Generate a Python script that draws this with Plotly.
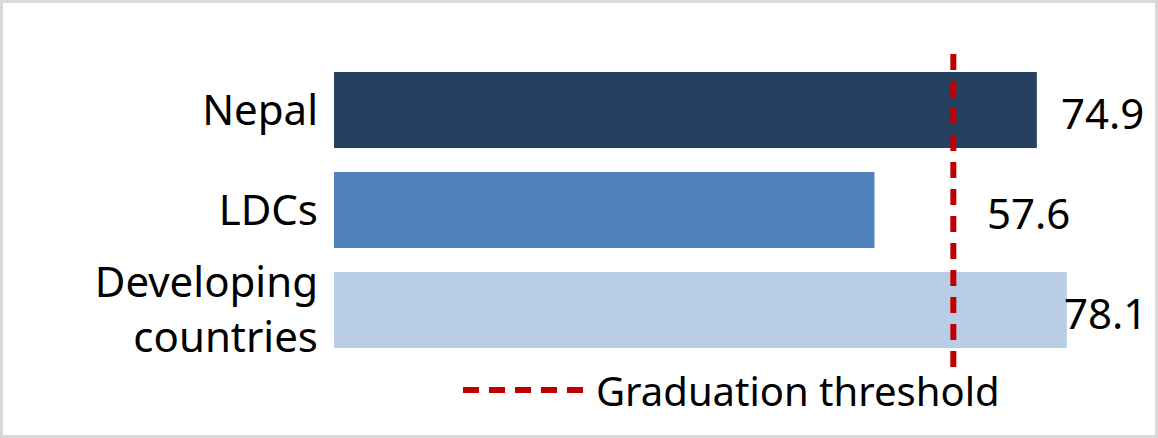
"""Horizontal bar chart: HAI scores vs. the LDC graduation threshold."""

import plotly.graph_objects as go

categories = ["Nepal", "LDCs", "Developing<br>countries"]
values = [74.9, 57.6, 78.1]
value_labels = ["74.9", "57.6", "78.1"]
threshold = 66
threshold_name = "Graduation threshold"

_COLORS = ["#264061", "#4f81bd", "#b9cde5"]
_RED = "#c00000"
_FONT = dict(family="Noto Sans, sans-serif", size=42, color="#000000")
_LABEL_SHIFT = [22, 110, -5]  # px, label offsets as placed in the original

W, H = 1158, 438
L, R, T, B = 334, 17, 50, 68
PW, PH = W - L - R, H - T - B

fig = go.Figure()
fig.add_trace(
    go.Bar(
        y=categories, x=values, orientation="h", width=0.76,
        marker=dict(color=_COLORS, line_width=0), showlegend=False,
        hoverinfo="x+y",
    )
)

for cat, val, lab, shift in zip(categories, values, value_labels, _LABEL_SHIFT):
    fig.add_annotation(
        x=val, y=cat, text=lab, showarrow=False, xanchor="left",
        xshift=shift, yshift=-2, font=_FONT,
    )

# threshold line through the plot
fig.add_shape(
    type="line", xref="x", yref="y domain", x0=threshold, x1=threshold,
    y0=0.009, y1=0.994, line=dict(color=_RED, width=6, dash="16px,11px"),
)

# hand-drawn legend (long dashed sample like the original)
leg_y = -20 / PH
fig.add_shape(
    type="line", xref="paper", yref="paper",
    x0=(463 - L) / PW, x1=(585 - L) / PW, y0=leg_y, y1=leg_y,
    line=dict(color=_RED, width=6, dash="16px,10px"),
)
fig.add_annotation(
    xref="paper", yref="paper", x=(594 - L) / PW, y=leg_y,
    text=threshold_name, showarrow=False, xanchor="left", yanchor="middle",
    font=dict(_FONT, size=40),
)

# light grey frame around the whole picture
fig.add_shape(
    type="rect", xref="paper", yref="paper",
    x0=(-L + 1.5) / PW, x1=1 + (R - 1.5) / PW,
    y0=(-B + 1.5) / PH, y1=1 + (T - 1.5) / PH,
    line=dict(color="#d9d9d9", width=3), fillcolor="rgba(0,0,0,0)", layer="below",
)

fig.update_layout(
    width=W, height=H, margin=dict(l=L, r=R, t=T, b=B),
    paper_bgcolor="#ffffff", plot_bgcolor="#ffffff",
    font=_FONT, showlegend=False, bargap=0.24,
)
fig.update_xaxes(range=[0, 86], visible=False, showgrid=False, zeroline=False)
fig.update_yaxes(
    type="category", categoryorder="array", categoryarray=categories,
    range=[2.6, -0.6], showgrid=False, zeroline=False, showline=False,
    ticks="", ticklabelstandoff=15, tickfont=_FONT,
)

fig.write_html(
    "out.html", config={"displayModeBar": False},
    post_script="document.body.style.margin='0';",
)
